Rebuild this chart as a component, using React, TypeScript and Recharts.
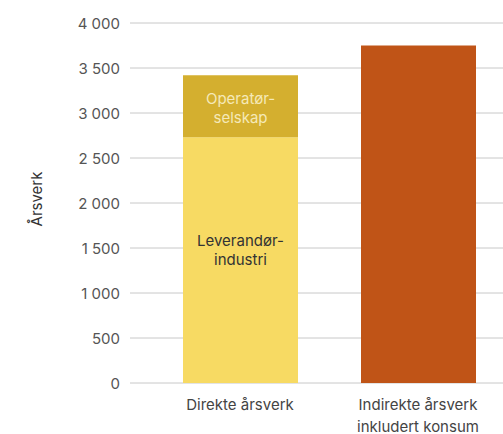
import React from "react";
import { BarChart, Bar, XAxis, YAxis, CartesianGrid } from "recharts";

const categories = ["Direkte årsverk", "Indirekte årsverk inkludert konsum"];
const xTickLines = [["Direkte årsverk"], ["Indirekte årsverk", "inkludert konsum"]];
const leverandorValues = [2730, null];
const operatorValues = [690, null];
const indirekteValues = [null, 3750];
const yTicks = [0, 500, 1000, 1500, 2000, 2500, 3000, 3500, 4000];
const yTickLabels = ["0", "500", "1 000", "1 500", "2 000", "2 500", "3 000", "3 500", "4 000"];
const leverandorLabel = ["Leverandør-", "industri"];
const operatorLabel = ["Operatør-", "selskap"];

const data = categories.map((c, i) => ({
  name: c,
  leverandor: leverandorValues[i],
  operator: operatorValues[i],
  indirekte: indirekteValues[i],
}));

const FONT = "Inter, 'Noto Sans', sans-serif";
const FS = 15;

const XTick = (props: any) => {
  const { x, y, index } = props;
  const lines = xTickLines[index] || [];
  return (
    <g>
      {lines.map((l: string, k: number) => (
        <text
          key={k}
          x={x}
          y={y + 19 + k * 22}
          textAnchor="middle"
          dominantBaseline="central"
          fontFamily={FONT}
          fontSize={FS}
          fill="#444"
        >
          {l}
        </text>
      ))}
    </g>
  );
};

const YTick = (props: any) => {
  const { x, y, payload } = props;
  const idx = yTicks.indexOf(payload.value);
  return (
    <text
      x={x}
      y={y}
      textAnchor="end"
      dominantBaseline="central"
      fontFamily={FONT}
      fontSize={FS}
      fill="#555"
    >
      {yTickLabels[idx]}
    </text>
  );
};

const makeSegLabel = (lines: string[], color: string, offset: number) => (props: any) => {
  const { x, y, width, height, index } = props;
  if (index !== 0) return null;
  const cx = x + width / 2;
  const cy = y + height / 2 + offset;
  return (
    <g>
      {lines.map((l, k) => (
        <text
          key={k}
          x={cx}
          y={cy + (k - (lines.length - 1) / 2) * 19}
          textAnchor="middle"
          dominantBaseline="central"
          fontFamily={FONT}
          fontSize={FS}
          fill={color}
        >
          {l}
        </text>
      ))}
    </g>
  );
};

export default function App() {
  return (
    <div style={{ position: "absolute", left: 0, top: 0 }}>
      <BarChart
        width={503}
        height={434}
        data={data}
        margin={{ top: 23, right: 0, bottom: 0, left: 0 }}
        barCategoryGap={0}
      >
        <CartesianGrid vertical={false} stroke="#c8c8c8" strokeWidth={1} />
        <XAxis
          dataKey="name"
          axisLine={false}
          tickLine={false}
          tickSize={0}
          height={51}
          interval={0}
          padding={{ left: 21, right: -4 }}
          tick={<XTick />}
        />
        <YAxis
          domain={[0, 4000]}
          ticks={yTicks}
          axisLine={false}
          tickLine={false}
          tickSize={0}
          width={130}
          tickMargin={10}
          interval={0}
          tick={<YTick />}
          label={{
            value: "Årsverk",
            angle: -90,
            position: "insideLeft",
            dx: 32,
            dy: -4,
            style: { fontFamily: FONT, fontSize: FS, fill: "#333", textAnchor: "middle" },
          }}
        />
        <Bar
          dataKey="leverandor"
          stackId="a"
          fill="#F7DA63"
          barSize={115}
          isAnimationActive={false}
          label={makeSegLabel(leverandorLabel, "#333", -10)}
        />
        <Bar
          dataKey="operator"
          stackId="a"
          fill="#D4AF2F"
          barSize={115}
          isAnimationActive={false}
          label={makeSegLabel(operatorLabel, "#F5E9B8", 2)}
        />
        <Bar
          dataKey="indirekte"
          stackId="a"
          fill="#C05417"
          barSize={115}
          isAnimationActive={false}
        />
      </BarChart>
    </div>
  );
}
